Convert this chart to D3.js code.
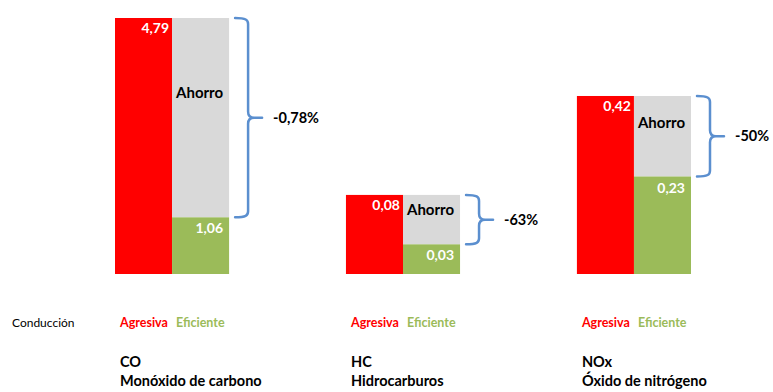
<!DOCTYPE html>
<html>
<head>
<meta charset="utf-8">
<script src="https://cdn.jsdelivr.net/npm/d3@7"></script>
<style>
  html, body { margin: 0; padding: 0; background: #fff; }
  svg text { font-family: Lato, "Open Sans", sans-serif; }
</style>
</head>
<body>
<svg id="chart" width="773" height="392"></svg>
<script>
// Emission values per pollutant, aggressive vs efficient driving
const categories = ["CO", "HC", "NOx"];
const names = ["Monóxido de carbono", "Hidrocarburos", "Óxido de nitrógeno"];
const agresiva = [4.79, 0.08, 0.42];
const eficiente = [1.06, 0.03, 0.23];
const ahorroLabels = ["-0,78%", "-63%", "-50%"];
const valueLabels = [["4,79", "1,06"], ["0,08", "0,03"], ["0,42", "0,23"]];
// Each pollutant has its own vertical scale maximum
const scaleMax = [4.79, 0.259, 0.604];
const series = ["Agresiva", "Eficiente"];

const RED = "#ff0000", GREEN = "#9bbb59", GREY = "#d9d9d9", BRACE = "#5b8fcf";

const svg = d3.select("#chart");
const baseY = 274, topY = 18;

const x = d3.scaleBand().domain(categories).range([115, 691]).paddingInner(0.506).paddingOuter(0);
const xi = d3.scaleBand().domain(series).range([0, x.bandwidth()]).padding(0);

categories.forEach((c, i) => {
  const y = d3.scaleLinear().domain([0, scaleMax[i]]).range([baseY, topY]);
  const g = svg.append("g").attr("transform", `translate(${x(c)},0)`);
  const xr = xi("Agresiva"), xe = xi("Eficiente"), w = xi.bandwidth();
  const yTop = y(agresiva[i]), yGreen = y(eficiente[i]);

  // aggressive bar
  g.append("rect").attr("x", xr).attr("y", yTop).attr("width", w)
    .attr("height", baseY - yTop).attr("fill", RED);
  // savings (grey) stacked on the efficient bar
  g.append("rect").attr("x", xe).attr("y", yTop).attr("width", w)
    .attr("height", yGreen - yTop).attr("fill", GREY);
  g.append("rect").attr("x", xe).attr("y", yGreen).attr("width", w)
    .attr("height", baseY - yGreen).attr("fill", GREEN);

  // value labels
  g.append("text").attr("x", xr + w - 3).attr("y", yTop + 15)
    .attr("text-anchor", "end").attr("fill", "#fff").attr("font-weight", 700)
    .attr("font-size", 14).text(valueLabels[i][0]);
  g.append("text").attr("x", xe + w - 6).attr("y", yGreen + 16)
    .attr("text-anchor", "end").attr("fill", "#fff").attr("font-weight", 700)
    .attr("font-size", 14).text(valueLabels[i][1]);

  // "Ahorro" label in the grey area
  const gh = yGreen - yTop;
  g.append("text").attr("x", xe + 4).attr("y", yTop + Math.max(15, gh * 0.4))
    .attr("fill", "#000").attr("font-weight", 700).attr("font-size", 15)
    .text("Ahorro");

  // curly brace spanning the savings
  const x0 = xe + w + 6, x1 = x0 + 13, x2 = x0 + 27;
  const ym = (yTop + yGreen) / 2;
  const r = Math.min(6, gh / 4);
  const p = d3.path();
  p.moveTo(x0, yTop);
  p.bezierCurveTo(x1 - 2, yTop, x1, yTop + 2, x1, yTop + r);
  p.lineTo(x1, ym - r);
  p.quadraticCurveTo(x1, ym, x1 + r, ym);
  p.lineTo(x2, ym);
  p.moveTo(x1 + r, ym);
  p.quadraticCurveTo(x1, ym, x1, ym + r);
  p.lineTo(x1, yGreen - r);
  p.bezierCurveTo(x1, yGreen - 2, x1 - 2, yGreen, x0, yGreen);
  g.append("path").attr("d", p.toString()).attr("fill", "none")
    .attr("stroke", BRACE).attr("stroke-width", 2.5).attr("stroke-linecap", "round");

  g.append("text").attr("x", xe + w + 44).attr("y", ym + 5)
    .attr("fill", "#000").attr("font-weight", 700).attr("font-size", 14.5)
    .text(ahorroLabels[i]);

  // series labels under each group
  g.append("text").attr("x", xr + 5).attr("y", 327)
    .attr("fill", RED).attr("font-weight", 700).attr("font-size", 12.5).text("Agresiva");
  g.append("text").attr("x", xe + 4).attr("y", 327)
    .attr("fill", GREEN).attr("font-weight", 700).attr("font-size", 12.5).text("Eficiente");

  // pollutant name
  g.append("text").attr("x", xr + 5).attr("y", 367)
    .attr("fill", "#000").attr("font-weight", 700).attr("font-size", 14.5).text(c);
  g.append("text").attr("x", xr + 5).attr("y", 386)
    .attr("fill", "#000").attr("font-weight", 700).attr("font-size", 14.5).text(names[i]);
});

svg.append("text").attr("x", 12).attr("y", 327)
  .attr("fill", "#000").attr("font-size", 12).text("Conducción");
</script>
</body>
</html>
